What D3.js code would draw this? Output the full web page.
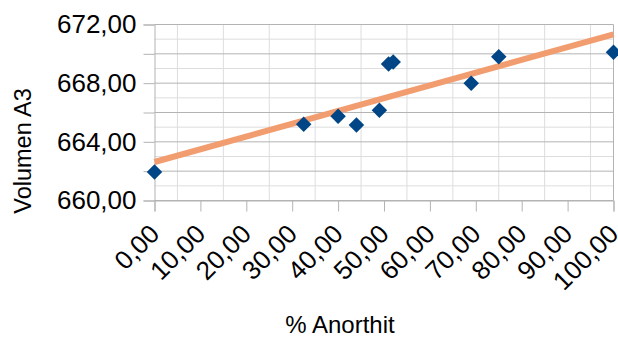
<!DOCTYPE html>
<html>
<head>
<meta charset="utf-8">
<script src="https://cdn.jsdelivr.net/npm/d3@7/dist/d3.min.js"></script>
<style>
  html, body { margin: 0; padding: 0; background: #fff; }
  svg { display: block; }
  text { font-family: "Liberation Sans", Arial, sans-serif; fill: #000; }
</style>
</head>
<body>
<svg id="chart" width="618" height="338"></svg>
<script>
// Anorthite content (%) and cell volume A3
const anorthit = [0, 32.5, 40, 44, 49, 51, 52, 69, 75, 100];
const volumen  = [661.95, 665.2, 665.75, 665.15, 666.15, 669.3, 669.45, 668.0, 669.8, 670.1];

// Axis ticks and labels
const xTickValues  = [0, 10, 20, 30, 40, 50, 60, 70, 80, 90, 100];
const xGridValues  = [5, 15, 25, 35, 45, 55, 65, 75, 85, 95];
const yTickValues  = [660, 662, 664, 666, 668, 670, 672];
const yMinorValues = [661, 663, 665, 667, 669, 671];
const yLabelValues = [660, 664, 668, 672];

const fmt = v => d3.format(".2f")(v).replace(".", ",");

const svg = d3.select("#chart");
const x = d3.scaleLinear().domain([0, 100]).range([154.5, 613.5]);
const y = d3.scaleLinear().domain([660, 672]).range([200.5, 24.5]);

// Grid
const grid = svg.append("g");
grid.selectAll("line.minor-h").data(yMinorValues).join("line")
  .attr("x1", x(0)).attr("x2", x(100))
  .attr("y1", d => y(d)).attr("y2", d => y(d))
  .attr("stroke", "#dddddd").attr("stroke-width", 1);
grid.selectAll("line.v").data(xGridValues).join("line")
  .attr("x1", d => x(d)).attr("x2", d => x(d))
  .attr("y1", y(660)).attr("y2", y(672))
  .attr("stroke", "#dddddd").attr("stroke-width", 1);
grid.selectAll("line.major-h").data(yTickValues).join("line")
  .attr("x1", x(0)).attr("x2", x(100))
  .attr("y1", d => y(d)).attr("y2", d => y(d))
  .attr("stroke", "#b3b3b3").attr("stroke-width", 1);
// right border
grid.append("line")
  .attr("x1", x(100)).attr("x2", x(100))
  .attr("y1", y(660)).attr("y2", y(672))
  .attr("stroke", "#b3b3b3");

// Axes
const yAxis = d3.axisLeft(y).tickValues(yTickValues).tickSize(11)
  .tickFormat(d => yLabelValues.includes(d) ? fmt(d) : "").tickPadding(7);
const gy = svg.append("g").attr("transform", `translate(${x(0)},0)`).call(yAxis);
gy.select(".domain").attr("stroke", "#b3b3b3");
gy.selectAll(".tick line").attr("stroke", "#b3b3b3");
gy.selectAll(".tick text").attr("font-size", 26).attr("font-family", "Liberation Sans, Arial, sans-serif");

const xAxis = d3.axisBottom(x).tickValues(xTickValues).tickSize(11).tickFormat(fmt);
const gx = svg.append("g").attr("transform", `translate(0,${y(660)})`).call(xAxis);
gx.select(".domain").attr("stroke", "#b3b3b3");
gx.selectAll(".tick line").attr("stroke", "#b3b3b3");
gx.selectAll(".tick text")
  .attr("font-size", 26).attr("font-family", "Liberation Sans, Arial, sans-serif")
  .attr("text-anchor", "end")
  .attr("dy", null).attr("y", null)
  .attr("transform", "translate(6,35) rotate(-45)");

// Linear trend (least squares)
const mx = d3.mean(anorthit), my = d3.mean(volumen);
const sxy = d3.sum(anorthit, (v, i) => (v - mx) * (volumen[i] - my));
const sxx = d3.sum(anorthit, v => (v - mx) ** 2);
const slope = sxy / sxx, icpt = my - slope * mx;
svg.append("line")
  .attr("x1", x(0)).attr("y1", y(icpt))
  .attr("x2", x(100)).attr("y2", y(icpt + slope * 100))
  .attr("stroke", "#f29d6f").attr("stroke-width", 6);

// Data points
const diamond = d3.symbol().type(d3.symbolSquare).size(120);
svg.append("g").selectAll("path").data(anorthit).join("path")
  .attr("d", diamond)
  .attr("transform", (d, i) => `translate(${x(d)},${y(volumen[i])}) rotate(45)`)
  .attr("fill", "#004586");

// Axis titles
svg.append("text")
  .attr("x", 340).attr("y", 333)
  .attr("text-anchor", "middle").attr("font-size", 24)
  .text("% Anorthit");
svg.append("text")
  .attr("transform", `translate(31,151) rotate(-90)`)
  .attr("text-anchor", "middle").attr("font-size", 23.5)
  .text("Volumen A3");
</script>
</body>
</html>
